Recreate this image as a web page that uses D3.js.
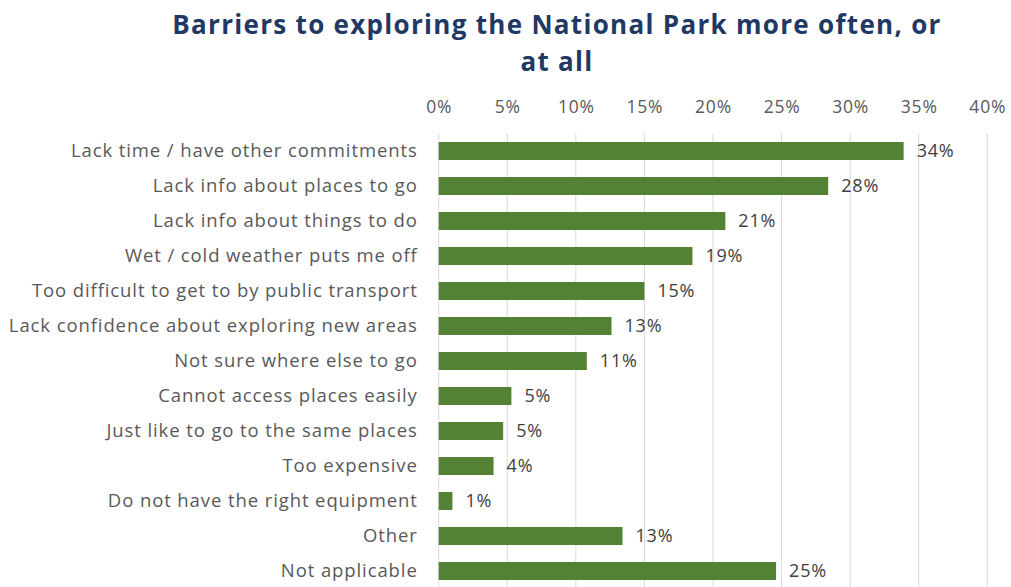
<!DOCTYPE html>
<html>
<head>
<meta charset="utf-8">
<script src="https://cdn.jsdelivr.net/npm/d3@7"></script>
<style>
  html, body { margin: 0; padding: 0; background: #ffffff; }
  svg { display: block; }
</style>
</head>
<body>
<svg id="chart" width="1011" height="587"></svg>
<script>
// Barriers reported by respondents, share of all answers (%)
const categories = [
  "Lack time / have other commitments",
  "Lack info about places to go",
  "Lack info about things to do",
  "Wet / cold weather puts me off",
  "Too difficult to get to by public transport",
  "Lack confidence about exploring new areas",
  "Not sure where else to go",
  "Cannot access places easily",
  "Just like to go to the same places",
  "Too expensive",
  "Do not have the right equipment",
  "Other",
  "Not applicable"
];
const values = [33.9, 28.4, 20.9, 18.5, 15.0, 12.6, 10.8, 5.3, 4.7, 4.0, 1.0, 13.4, 24.6];
const tickValues = [0, 5, 10, 15, 20, 25, 30, 35, 40];
const titleLines = ["Barriers to exploring the National Park more often, or", "at all"];

const svg = d3.select("#chart");
const W = 1011, H = 587;
const plotLeft = 438.7, plotRight = 987.3, plotTop = 133.5, plotBottom = 588.5;

const x = d3.scaleLinear().domain([0, 40]).range([plotLeft, plotRight]);
const y = d3.scaleBand().domain(categories).range([plotTop, plotBottom]).paddingInner(0.486).paddingOuter(0.243);

const font = "'Open Sans', 'Lato', sans-serif";

// Title, two centred lines
svg.append("g").selectAll("text").data(titleLines).join("text")
  .attr("x", 557).attr("y", (d, i) => 34 + i * 37)
  .attr("text-anchor", "middle")
  .attr("font-family", font)
  .attr("font-weight", 700)
  .attr("font-size", 26)
  .attr("letter-spacing", "1.3px")
  .attr("fill", "#1f3864")
  .text(d => d);

// Vertical gridlines
svg.append("g").selectAll("line").data(tickValues).join("line")
  .attr("x1", d => x(d)).attr("x2", d => x(d))
  .attr("y1", plotTop).attr("y2", H)
  .attr("stroke", "#d9d9d9").attr("stroke-width", 1);

// Top axis tick labels
const axis = d3.axisTop(x).tickValues(tickValues).tickFormat(d => d + "%").tickSize(0).tickPadding(0);
const gAxis = svg.append("g").attr("transform", "translate(0,113)").call(axis);
gAxis.select(".domain").remove();
gAxis.selectAll("text")
  .attr("font-family", font).attr("font-size", 17.5).attr("letter-spacing", "0.8px")
  .attr("fill", "#595959");

// Category labels
const yAxis = d3.axisLeft(y).tickSize(0).tickPadding(21);
const gY = svg.append("g").attr("transform", `translate(${plotLeft},0)`).call(yAxis);
gY.select(".domain").remove();
gY.selectAll("text")
  .attr("font-family", font).attr("font-size", 18.5).attr("letter-spacing", "0.9px")
  .attr("fill", "#595959")
  .attr("dy", "0.35em");

// Bars
svg.append("g").selectAll("rect").data(values).join("rect")
  .attr("x", x(0))
  .attr("y", (d, i) => y(categories[i]))
  .attr("width", d => x(d) - x(0))
  .attr("height", y.bandwidth())
  .attr("fill", "#548235");

// Value labels
const fmt = v => Math.round(v) + "%";
svg.append("g").selectAll("text").data(values).join("text")
  .attr("x", d => x(d) + 13)
  .attr("y", (d, i) => y(categories[i]) + y.bandwidth() / 2)
  .attr("dy", "0.35em")
  .attr("font-family", font).attr("font-size", 18).attr("letter-spacing", "0.8px")
  .attr("fill", "#404040")
  .text(fmt);
</script>
</body>
</html>
